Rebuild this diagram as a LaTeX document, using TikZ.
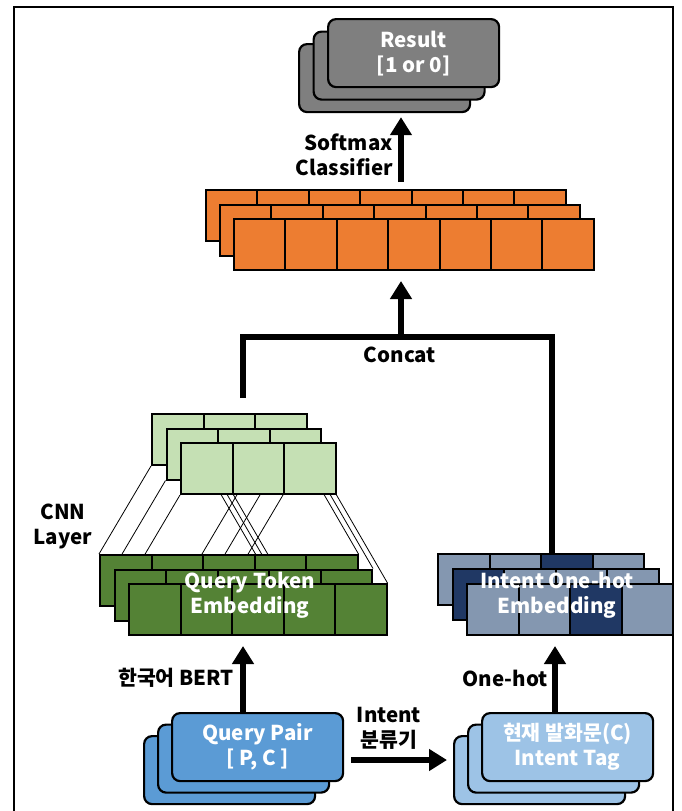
\documentclass[tikz,border=0pt]{standalone}
\usepackage{fontspec}
\setmainfont{Noto Sans CJK KR}
\usetikzlibrary{positioning,arrows.meta}

\definecolor{resgray}{HTML}{7F7F7F}
\definecolor{orgfill}{HTML}{ED7D31}
\definecolor{cnnfill}{HTML}{C5E0B4}
\definecolor{embfill}{HTML}{548235}
\definecolor{coldfill}{HTML}{8497B0}
\definecolor{hotfill}{HTML}{203864}
\definecolor{pairfill}{HTML}{5B9BD5}
\definecolor{tagfill}{HTML}{9DC3E6}

\pgfdeclarelayer{background}
\pgfsetlayers{background,main}

\tikzset{
  card/.style = {draw, line width=2.2pt, rounded corners=8pt, minimum width=171pt,
                 minimum height=68pt, text=white, align=center, inner sep=0pt},
  cell/.style = {draw, line width=2pt, minimum width=51.5pt, minimum height=51pt, inner sep=0pt},
  bigarrow/.style = {line width=6.5pt, -{Triangle[width=21pt,length=18pt]}},
  catline/.style = {line width=6.5pt},
  conv/.style = {line width=0.8pt},
  lbl/.style = {align=center, inner sep=0pt},
  frame/.style = {line width=2pt}
}

\begin{document}
\begin{tikzpicture}[x=1pt,y=-1pt,font=\bfseries\fontsize{20.5}{25}\selectfont]
\useasboundingbox (0,0) rectangle (681,811);

\draw[frame] (14,811) -- (14,7) -- (673,7) -- (673,811);

% result cards
\foreach \k in {0,1}
    \node[card, fill=resgray, anchor=north west] (res\k) at (298+14.5*\k,43-12.5*\k) {};
\node[card, fill=resgray, anchor=north west] (res2) at (327,18) {Result\\{[1 or 0]}};

% fully connected layer
\foreach \k in {0,1,2}
    \foreach \i in {0,...,6}
        \node[cell, fill=orgfill, anchor=north west] (org-\k-\i) at (205+14*\k+51.4*\i,189+14.5*\k) {};

% cnn feature maps
\foreach \k in {0,1,2}
    \foreach \i in {0,...,2}
        \node[cell, fill=cnnfill, anchor=north west] (lg-\k-\i) at (151+14.5*\k+51.5*\i,413+14.5*\k) {};

% token embedding
\foreach \k in {0,1,2}
    \foreach \i in {0,...,4}
        \node[cell, fill=embfill, anchor=north west] (dg-\k-\i) at (99+14.5*\k+51.5*\i,554+14.5*\k) {};
\node[lbl, text=white] (qtok) at (250,595.5) {Query Token\\Embedding};

% one-hot embedding
\foreach \k/\d in {0/2,1/0,2/2}
    \foreach \i in {0,...,3} {
        \ifnum\i=\d \def\c{hotfill}\else\def\c{coldfill}\fi
        \node[cell, fill=\c, anchor=north west] (oh-\k-\i) at (437+14.5*\k+51.5*\i,553+15*\k) {};
    }
\node[lbl, text=white] (ohtxt) at (557,595.5) {Intent One-hot\\Embedding};

% input cards
\foreach \k in {0,1}
    \node[card, fill=pairfill, anchor=north west] (qp\k) at (143+14*\k,735-11.5*\k) {};
\node[card, fill=pairfill, anchor=north west] (qp2) at (171,712) {Query Pair\\{[ P, C ]}};
\foreach \k in {0,1}
    \node[card, fill=tagfill, anchor=north west] (it\k) at (453+14*\k,735-11.5*\k) {};
\node[card, fill=tagfill, anchor=north west] (it2) at (481,712) {현재 발화문(C)\\Intent Tag};

% receptive field lines
\begin{pgfonlayer}{background}
\foreach \k in {0,1,2} {
    \foreach \a/\b in {0/0,2/2}
        \draw[conv] (lg-\k-\a.south west) -- (dg-\k-\b.north west);
    \foreach \a/\b in {0/2,2/4}
        \draw[conv] (lg-\k-\a.south east) -- (dg-\k-\b.north east);
}
\end{pgfonlayer}

% labels
\node[lbl, align=right, anchor=east] (softlbl) at (393,155) {Softmax\\Classifier};
\node[lbl] (catlbl) at (400,355) {Concat};
\node[lbl] (cnnlbl) at (63,526) {CNN\\Layer};
\node[lbl, anchor=east] (bertlbl) at (234,678) {한국어 BERT};
\node[lbl, anchor=east] (ohlbl) at (548,678) {One-hot};
\node[lbl] (clslbl) at (389,728) {Intent\\분류기};

% arrows
\coordinate (smx) at (401,0);
\coordinate (cat) at (401,337);
\coordinate (catL) at (243,398);
\coordinate (catx) at (552,0);
\coordinate (bertx) at (243,0);
\coordinate (ohx) at (555,0);
\coordinate (hy) at (0,760);

\draw[bigarrow] ([yshift=7pt]smx |- org-0-0.north) -- ([yshift=-4pt]smx |- res0.south);
\draw[catline] (catL) |- (cat) -| (catx |- oh-0-0.north);
\draw[bigarrow] (cat) -- ([yshift=-10pt]cat |- org-2-0.south);
\draw[bigarrow] (bertx |- qp2.north) -- ([yshift=-10pt]bertx |- dg-2-0.south);
\draw[bigarrow] (ohx |- it2.north) -- ([yshift=-10pt]ohx |- oh-2-0.south);
\draw[bigarrow] ([xshift=7pt]qp2.east |- hy) -- ([xshift=-6pt]it0.west |- hy);
\end{tikzpicture}
\end{document}
